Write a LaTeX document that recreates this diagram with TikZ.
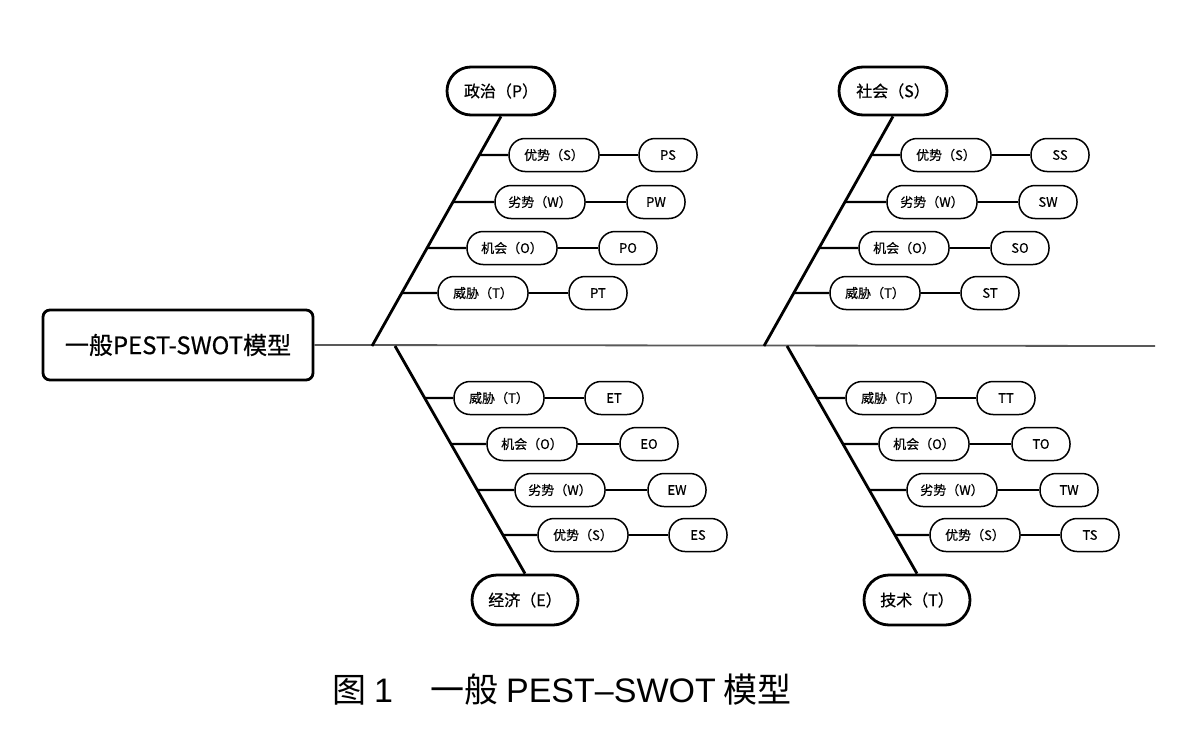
\documentclass[tikz,border=0pt]{standalone}
\usepackage{fontspec}
\setmainfont{Noto Sans CJK SC}
\newfontfamily\latinf{Liberation Sans}
\newfontfamily\medf[FakeBold=0.6]{Noto Sans CJK SC}
\begin{document}
\begin{tikzpicture}[x=1pt,y=-1pt,
  spine/.style={draw=black!65, line width=1.8pt},
  bone/.style={line width=2.8pt},
  twig/.style={line width=2.4pt},
  link/.style={line width=1.4pt},
  mainbox/.style={draw, line width=2.8pt, rounded corners=7pt, minimum width=270pt, minimum height=70pt, inner sep=0pt, font=\fontsize{24}{28}\selectfont\medf},
  cat/.style={draw, line width=2.8pt, rounded corners=24pt, minimum width=108pt, minimum height=48pt, inner sep=0pt, font=\fontsize{16}{19}\selectfont\medf},
  sw/.style={draw, line width=1.5pt, rounded corners=16pt, minimum width=90pt, minimum height=33pt, inner sep=0pt, font=\fontsize{13}{15}\selectfont\medf},
  codebox/.style={sw, minimum width=58pt},
]
\useasboundingbox (0,0) rectangle (1188,752);
\node[mainbox] (main) at (178,345) {一般PEST-SWOT模型};
\coordinate (spineend) at (1155,346);
\draw[spine] (main.east) -- (spineend);
% upper groups
\foreach \g/\dx/\lab in {P/0/政治（P）, S/392/社会（S）}{
  \begin{scope}[xshift=\dx]
    \node[cat] (\g top) at (501,91) {\lab};
    \coordinate (\g root) at (372,346);
    \draw[bone] (\g root) -- (\g top.south);
    \foreach \k/\y/\lx/\rx/\txt in {S/155/554/668/优势（S）, W/202/540/656/劣势（W）, O/248/512/628/机会（O）, T/293/483/598/威胁（T）}{
      \node[sw] (\g\k) at (\lx,\y) {\txt};
      \node[codebox] (\g\k c) at (\rx,\y) {\g\k};
      \draw[twig] (intersection cs: first line={(\g root)--(\g top.south)}, second line={(\g\k.west)--(\g\k.east)}) -- (\g\k.west);
      \draw[link] (\g\k.east) -- (\g\k c.west);
    }
  \end{scope}
}
% lower groups
\foreach \g/\dx/\lab in {E/0/经济（E）, T/392/技术（T）}{
  \begin{scope}[xshift=\dx]
    \node[cat, minimum width=106pt, minimum height=50pt, rounded corners=25pt] (\g bot) at (525,600) {\lab};
    \coordinate (\g root) at (395,346);
    \draw[bone] (\g root) -- (\g bot.north);
    \foreach \k/\y/\lx/\rx/\txt in {T/398/499/614/威胁（T）, O/444/532/649/机会（O）, W/490/560/677/劣势（W）, S/535/583/698/优势（S）}{
      \node[sw] (\g\k) at (\lx,\y) {\txt};
      \node[codebox] (\g\k c) at (\rx,\y) {\g\k};
      \draw[twig] (intersection cs: first line={(\g root)--(\g bot.north)}, second line={(\g\k.west)--(\g\k.east)}) -- (\g\k.west);
      \draw[link] (\g\k.east) -- (\g\k c.west);
    }
  \end{scope}
}
\node[font=\fontsize{34}{39}\selectfont] (cap) at (562,690) {图 {\latinf 1}\hspace{1.1em}一般 {\latinf PEST–SWOT} 模型};
\end{tikzpicture}
\end{document}
